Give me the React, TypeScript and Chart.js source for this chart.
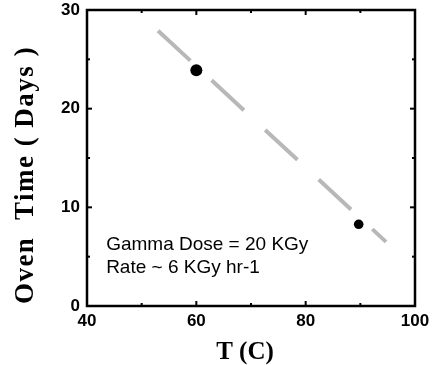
import React, { useEffect, useRef } from "react";
import { Chart, registerables } from "chart.js";

Chart.register(...registerables);

// Data
const measuredT = [60, 89.7];
const measuredDays = [23.9, 8.28];
const measuredRadius = [6, 4.8];
const fitT = [53, 94.7];
const fitDays = [27.9, 6.5];
const xMinorTicks = [50, 70, 90];
const yMinorTicks = [5, 15, 25];
const xTitle = "T (C)";
const yTitle = "Oven  Time ( Days )";
const noteLines = ["Gamma Dose = 20 KGy", "Rate ~ 6 KGy hr-1"];
const notePos = { x: 43.5, y: [5.68, 3.34] };

const framePlugin = {
  id: "frame",
  afterDraw(chart: any) {
    const { ctx, chartArea: a, scales } = chart;
    const xs = scales.x;
    const ys = scales.y;
    ctx.save();
    ctx.strokeStyle = "#000";
    ctx.lineWidth = 2.5;
    ctx.strokeRect(a.left, a.top, a.right - a.left, a.bottom - a.top);
    ctx.lineWidth = 2;
    const tick = (x1: number, y1: number, x2: number, y2: number) => {
      ctx.beginPath();
      ctx.moveTo(x1, y1);
      ctx.lineTo(x2, y2);
      ctx.stroke();
    };
    xs.ticks.forEach((t: any) => {
      const px = xs.getPixelForValue(t.value);
      tick(px, a.bottom, px, a.bottom - 5);
      tick(px, a.top, px, a.top + 5);
    });
    xMinorTicks.forEach((v) => {
      const px = xs.getPixelForValue(v);
      tick(px, a.bottom, px, a.bottom - 3);
      tick(px, a.top, px, a.top + 3);
    });
    ys.ticks.forEach((t: any) => {
      const py = ys.getPixelForValue(t.value);
      tick(a.left, py, a.left + 5, py);
      tick(a.right, py, a.right - 5, py);
    });
    yMinorTicks.forEach((v) => {
      const py = ys.getPixelForValue(v);
      tick(a.left, py, a.left + 3, py);
      tick(a.right, py, a.right - 3, py);
    });

    // annotation
    ctx.fillStyle = "#000";
    ctx.font = "19px 'Liberation Sans', Arial, sans-serif";
    ctx.textAlign = "left";
    ctx.textBaseline = "alphabetic";
    noteLines.forEach((line, i) => {
      ctx.fillText(line, xs.getPixelForValue(notePos.x), ys.getPixelForValue(notePos.y[i]));
    });

    // axis titles
    ctx.font = "bold 25px 'Liberation Serif', 'Times New Roman', serif";
    ctx.textAlign = "center";
    ctx.fillText(xTitle, 245, 359);
    ctx.save();
    ctx.translate(33, 175);
    ctx.rotate(-Math.PI / 2);
    (ctx as any).letterSpacing = "1.5px";
    ctx.font = "bold 27px 'Liberation Serif', 'Times New Roman', serif";
    ctx.fillText(yTitle, 0, 0);
    ctx.restore();
    ctx.restore();
  },
};

export default function App() {
  const ref = useRef<HTMLCanvasElement | null>(null);
  useEffect(() => {
    if (!ref.current) return;
    const tickFont = { family: "'Liberation Sans', Arial, sans-serif", size: 17, weight: "bold" as const };
    const chart = new Chart(ref.current, {
      type: "scatter",
      data: {
        datasets: [
          {
            type: "line",
            data: fitT.map((t, i) => ({ x: t, y: fitDays[i] })),
            borderColor: "#b8b8b8",
            borderWidth: 4,
            borderDash: [44, 29],
            pointRadius: 0,
            fill: false,
            showLine: true,
          } as any,
          {
            data: measuredT.map((t, i) => ({ x: t, y: measuredDays[i] })),
            backgroundColor: "#000",
            borderColor: "#000",
            pointRadius: measuredRadius,
            borderWidth: 0,
          },
        ],
      },
      options: {
        responsive: false,
        animation: false,
        layout: { padding: { top: 10, right: 21, left: 0, bottom: 0 } },
        plugins: { legend: { display: false }, tooltip: { enabled: false } },
        scales: {
          x: {
            type: "linear",
            min: 40,
            max: 100,
            ticks: { stepSize: 20, font: tickFont, color: "#000", padding: 5, maxRotation: 0 },
            grid: { display: false, drawTicks: false },
            border: { display: false },
            afterFit: (s: any) => {
              s.height = 59;
              s.paddingRight = 0;
              s.paddingLeft = 0;
            },
          },
          y: {
            type: "linear",
            min: 0,
            max: 30,
            ticks: { stepSize: 10, font: tickFont, color: "#000", padding: 7 },
            grid: { display: false, drawTicks: false },
            border: { display: false },
            afterFit: (s: any) => {
              s.width = 87;
              s.paddingTop = 0;
              s.paddingBottom = 0;
            },
          },
        },
      },
      plugins: [framePlugin],
    });
    return () => chart.destroy();
  }, []);
  return (
    <canvas
      ref={ref}
      width={436}
      height={365}
      style={{ position: "absolute", left: 0, top: 0, width: 436, height: 365 }}
    />
  );
}
